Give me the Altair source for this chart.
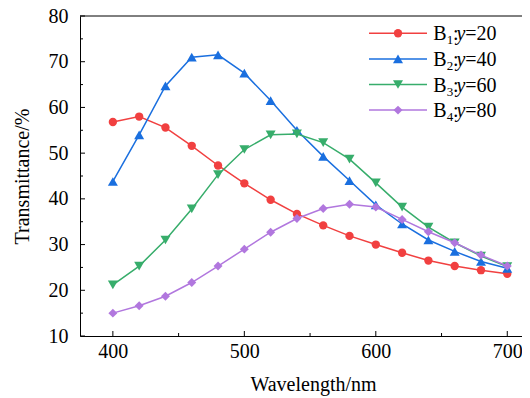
import altair as alt
import pandas as pd

wavelength = [400, 420, 440, 460, 480, 500, 520, 540, 560, 580, 600, 620, 640, 660, 680, 700]
b1 = [56.8, 58.0, 55.6, 51.6, 47.3, 43.4, 39.8, 36.7, 34.2, 31.9, 30.0, 28.2, 26.5, 25.3, 24.4, 23.6]
b2 = [43.8, 54.0, 64.7, 71.0, 71.5, 67.5, 61.5, 55.0, 49.3, 44.0, 38.7, 34.5, 31.0, 28.5, 26.3, 24.8]
b3 = [21.2, 25.3, 31.0, 37.8, 45.3, 50.8, 54.0, 54.2, 52.3, 48.7, 43.5, 38.2, 33.8, 30.4, 27.5, 25.2]
b4 = [15.0, 16.6, 18.7, 21.7, 25.3, 29.0, 32.7, 35.7, 37.9, 38.8, 38.2, 35.5, 32.8, 30.4, 27.7, 25.3]

series_sub = ["1", "2", "3", "4"]
series_y = ["20", "40", "60", "80"]
series_vals = [b1, b2, b3, b4]
colors = ["#F14040", "#1A6FDF", "#37AD6B", "#B177DE"]
shapes = ["circle", "triangle-up", "triangle-down", "diamond"]
sizes = [70, 100, 100, 80]

y_major = [10, 20, 30, 40, 50, 60, 70, 80]
y_minor = [15, 25, 35, 45, 55, 65, 75]
x_major = [400, 500, 600, 700]
x_minor = [450, 550, 650]

W, H = 442, 320
FONT = "Liberation Serif"

xs = alt.Scale(domain=[375, 711.2], nice=False, zero=False)
ys = alt.Scale(domain=[10, 80], nice=False, zero=False)

xaxis = alt.Axis(values=x_major, title="Wavelength/nm", grid=False, ticks=False,
                 labelPadding=5, titleX=233, titleY=54, titleBaseline="alphabetic",
                 titleAnchor="start", titleAlign="center")
yaxis = alt.Axis(values=y_major, title="Transmittance/%", grid=False, ticks=False,
                 labelPadding=12, titleX=-58, titleY=H / 2, titleAngle=270,
                 titleBaseline="middle", titleAlign="center", titleAnchor="start")

X = alt.X("w:Q", scale=xs, axis=xaxis)
Y = alt.Y("v:Q", scale=ys, axis=yaxis)

layers = []
one = pd.DataFrame({"w": [400], "v": [50]})

# top frame line
layers.append(alt.Chart(one).mark_rule(color="black", strokeWidth=1).encode(
    x=alt.value(0), x2=alt.value(W), y=alt.value(0)))

# inward ticks
def tick_layer(vals, axis, length):
    if axis == "y":
        df = pd.DataFrame({"v": vals})
        return alt.Chart(df).mark_rule(color="black", strokeWidth=1).encode(
            y=Y, x=alt.value(0), x2=alt.value(length))
    df = pd.DataFrame({"w": vals})
    return alt.Chart(df).mark_rule(color="black", strokeWidth=1).encode(
        x=X, y=alt.value(H), y2=alt.value(H - length))

layers += [tick_layer(y_major, "y", 5), tick_layer(y_minor, "y", 3),
           tick_layer(x_major, "x", 5), tick_layer(x_minor, "x", 3)]

for i in range(4):
    df = pd.DataFrame({"w": wavelength, "v": series_vals[i]})
    layers.append(alt.Chart(df).mark_line(color=colors[i], strokeWidth=1.5).encode(x=X, y=Y))
    layers.append(alt.Chart(df).mark_point(color=colors[i], filled=True, opacity=1,
                                           shape=shapes[i], size=sizes[i]).encode(x=X, y=Y))

# legend
for i in range(4):
    cy = 17.3 + 25.6 * i
    by = cy + 7
    layers.append(alt.Chart(one).mark_rule(color=colors[i], strokeWidth=1.5).encode(
        x=alt.value(289), x2=alt.value(347), y=alt.value(cy)))
    layers.append(alt.Chart(one).mark_point(color=colors[i], filled=True, opacity=1,
                                            shape=shapes[i], size=sizes[i]).encode(
        x=alt.value(318), y=alt.value(cy)))
    x0 = 353.3
    pieces = [("B", 0, 20, "normal", 0),
              (series_sub[i], 13.4, 13, "normal", 4),
              (":", 19.8, 20, "normal", 0),
              ("y", 23.2, 20, "italic", 0),
              ("=" + series_y[i], 32.0, 20, "normal", 0)]
    for txt, dx, fs, st, dy in pieces:
        layers.append(alt.Chart(one).mark_text(text=txt, font=FONT, fontSize=fs, fontStyle=st,
                                               align="left", baseline="alphabetic",
                                               color="black").encode(
            x=alt.value(x0 + dx), y=alt.value(by + dy)))

chart = alt.layer(*layers).properties(
    width=W, height=H,
    padding={"left": 72, "top": 8, "right": 0, "bottom": 60},
    autosize=alt.AutoSizeParams(type="none"),
).configure_view(strokeWidth=0).configure_axis(
    labelFont=FONT, titleFont=FONT, labelFontSize=20, titleFontSize=20,
    labelColor="black", titleColor="black", titleFontWeight="normal",
    domainColor="black", domainWidth=1,
)

chart.save("out.html", embed_options={"renderer": "svg", "actions": False})
